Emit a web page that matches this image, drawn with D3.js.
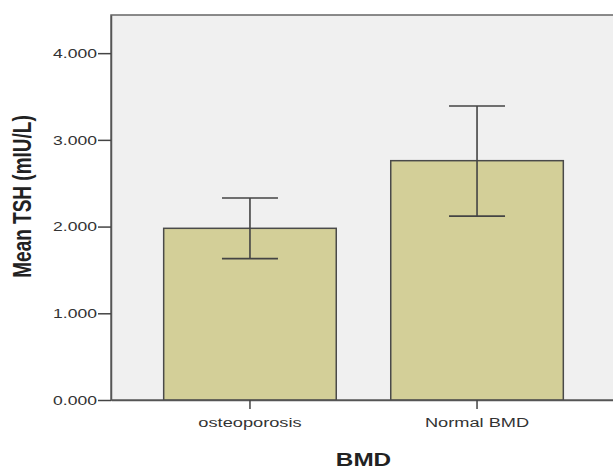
<!DOCTYPE html>
<html>
<head>
<meta charset="utf-8">
<script src="https://cdn.jsdelivr.net/npm/d3@7"></script>
<style>
    body { margin: 0; background: #fff; }
    text { font-family: Arial, "Liberation Sans", sans-serif; }
</style>
</head>
<body>
<div id="chart"></div>
<script>
// data
const categories = ['osteoporosis', 'Normal BMD'];
const means = [1.98, 2.76];
const ciLow = [1.63, 2.12];
const ciHigh = [2.33, 3.39];
const yTicks = [0, 1, 2, 3, 4];

const margin = { top: 15, right: -3, bottom: 70, left: 111 };
const width = 613;
const height = 470;
const graphWidth = width - margin.left - margin.right;
const graphHeight = height - margin.top - margin.bottom;
const stretch = 1.35; // text in the source is wide

const svg = d3.select('#chart')
    .append('svg')
    .attr('width', width)
    .attr('height', height);

const chart = svg.append('g')
    .attr('transform', `translate(${margin.left}, ${margin.top})`);

// scales
const x = d3.scaleBand()
    .domain(categories)
    .range([0, graphWidth])
    .paddingInner(0.24)
    .paddingOuter(0.232);

const y = d3.scaleLinear()
    .domain([0, 4.44])
    .range([graphHeight, 0]);

// plot background + frame
chart.append('rect')
    .attr('width', graphWidth)
    .attr('height', graphHeight)
    .attr('fill', '#f0f0f0')
    .attr('stroke', '#666')
    .attr('stroke-width', 1.5);

// bars
chart.selectAll('rect.bar')
    .data(means)
    .enter()
    .append('rect')
    .attr('class', 'bar')
    .attr('x', (d, i) => x(categories[i]))
    .attr('y', d => y(d))
    .attr('width', x.bandwidth())
    .attr('height', d => graphHeight - y(d))
    .attr('fill', '#d3cf98')
    .attr('stroke', '#4a4a4a')
    .attr('stroke-width', 1.5);

// error bars
const capW = 28;
const cx = i => x(categories[i]) + x.bandwidth() / 2;
const errs = chart.selectAll('g.err')
    .data(means)
    .enter()
    .append('g')
    .attr('class', 'err')
    .attr('stroke', '#444')
    .attr('stroke-width', 1.6);

errs.append('line')
    .attr('x1', (d, i) => cx(i))
    .attr('x2', (d, i) => cx(i))
    .attr('y1', (d, i) => y(ciLow[i]))
    .attr('y2', (d, i) => y(ciHigh[i]));

errs.append('line')
    .attr('x1', (d, i) => cx(i) - capW)
    .attr('x2', (d, i) => cx(i) + capW)
    .attr('y1', (d, i) => y(ciHigh[i]))
    .attr('y2', (d, i) => y(ciHigh[i]));

errs.append('line')
    .attr('x1', (d, i) => cx(i) - capW)
    .attr('x2', (d, i) => cx(i) + capW)
    .attr('y1', (d, i) => y(ciLow[i]))
    .attr('y2', (d, i) => y(ciLow[i]));

// axes
const yAxis = d3.axisLeft(y)
    .tickValues(yTicks)
    .tickSize(13)
    .tickSizeOuter(0)
    .tickFormat(d3.format('.3f'));

const xAxis = d3.axisBottom(x)
    .tickSize(9)
    .tickSizeOuter(0)
    .tickPadding(8);

const yAxisGroup = chart.append('g').call(yAxis);
const xAxisGroup = chart.append('g')
    .attr('transform', `translate(0, ${graphHeight})`)
    .call(xAxis);

[yAxisGroup, xAxisGroup].forEach(g => {
    g.select('.domain').attr('stroke', '#555').attr('stroke-width', 1.5);
    g.selectAll('.tick line').attr('stroke', '#444').attr('stroke-width', 1.5);
    g.selectAll('text')
        .attr('fill', '#333')
        .style('font-size', '13px');
});

yAxisGroup.selectAll('text')
    .attr('x', 0)
    .attr('transform', `translate(-14, 0) scale(${stretch}, 1)`);

xAxisGroup.selectAll('text')
    .style('font-size', '13.5px')
    .attr('transform', `scale(${stretch}, 1)`);

// axis titles
svg.append('text')
    .attr('transform', `translate(31, ${margin.top + graphHeight / 2 - 11}) scale(${stretch}, 1) rotate(-90)`)
    .attr('text-anchor', 'middle')
    .style('font-size', '19px')
    .style('font-weight', 'bold')
    .attr('fill', '#222')
    .text('Mean TSH (mIU/L)');

svg.append('text')
    .attr('transform', `translate(${margin.left + graphWidth / 2}, 466) scale(${stretch}, 1)`)
    .attr('text-anchor', 'middle')
    .style('font-size', '18px')
    .style('font-weight', 'bold')
    .attr('fill', '#222')
    .text('BMD');
</script>
</body>
</html>
